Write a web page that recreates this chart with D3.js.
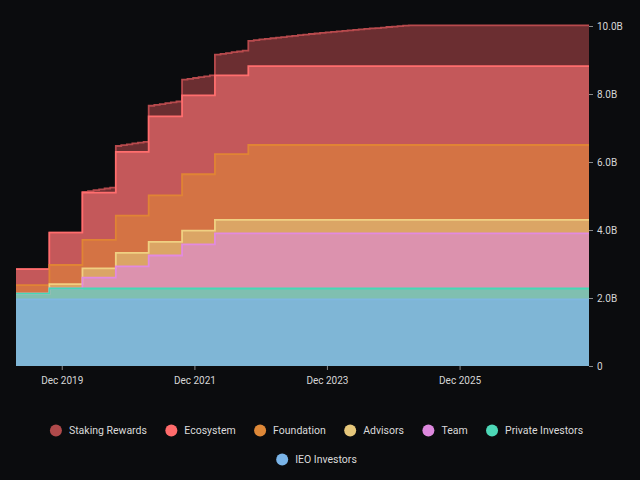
<!DOCTYPE html>
<html><head><meta charset="utf-8">
<script src="https://cdn.jsdelivr.net/npm/d3@7"></script>
<style>
html,body{margin:0;padding:0;background:#0b0c0e;}
svg{display:block;}
text{font-family:Roboto, "Segoe UI", Arial, sans-serif;}
</style></head><body>
<svg id="chart" width="640" height="480"></svg>
<script>
// ---- data (billions of tokens) ----
const seriesNames = ["Staking Rewards","Ecosystem","Foundation","Advisors","Team","Private Investors","IEO Investors"];
const seriesKeys  = ["staking","ecosystem","foundation","advisors","team","private","ieo"];
// six-month tranche schedules (each value holds for 6 months, last holds to the end)
const ieoTranches        = [1.96];
const privateTranches    = [0.17, 0.32];
const teamTranches       = [0, 0, 0.32, 0.65, 0.97, 1.30, 1.62];
const advisorsTranches   = [0, 0.13, 0.27, 0.40];
const foundationTranches = [0.25, 0.56, 0.84, 1.09, 1.37, 1.66, 1.93, 2.20];
const ecosystemTranches  = [0.47, 0.95, 1.39, 1.88, 2.32];
// monthly staking rewards (last value holds to the end)
const stakingMonthly = [0,0,0,0,0,0,0,0,0,0,0,0,
  0.02,0.045,0.07,0.095,0.12,0.145,0.17,0.195,0.22,0.245,0.27,0.29,
  0.315,0.34,0.365,0.39,0.415,0.44,0.46,0.485,0.51,0.535,0.56,0.585,
  0.61,0.63,0.655,0.68,0.70,0.725,0.745,0.765,0.785,0.80,0.82,0.84,
  0.855,0.875,0.89,0.91,0.925,0.945,0.96,0.975,0.99,1.005,1.02,1.035,
  1.05,1.065,1.08,1.095,1.11,1.12,1.135,1.15,1.16,1.175,1.19,1.20];
const startDate = "2019-03-24";
const endDate = "2027-11-14";
const monthCount = 104;
const xTickDates = ["2019-12-01","2021-12-01","2023-12-01","2025-12-01"];
const yTickValues = [0, 2, 4, 6, 8, 10];

// ---- styles ----
const fillColors   = {staking:"#6b2e31", ecosystem:"#c4585a", foundation:"#d47344", advisors:"#dba565", team:"#dc92ae", private:"#80bfb0", ieo:"#7fb6d6"};
const lineColors   = {staking:"#b84a4d", ecosystem:"#ff6e6e", foundation:"#e08434", advisors:"#f0d082", team:"#e28ae0", private:"#45d8b5", ieo:"#80b8e2"};
const legendColors = {staking:"#b04a4b", ecosystem:"#ff6b6b", foundation:"#de8838", advisors:"#e6c77b", team:"#dd88dd", private:"#4dd8b7", ieo:"#7ab4e8"};

const parse = d3.utcParse("%Y-%m-%d");
const t0 = parse(startDate), t1 = parse(endDate);
const tranche = (arr, i) => arr[Math.min(Math.floor(i / 6), arr.length - 1)];
const hold = (arr, i) => arr[Math.min(i, arr.length - 1)];

const rows = d3.range(monthCount).map(i => ({
  date: d3.utcMonth.offset(t0, i),
  ieo: tranche(ieoTranches, i),
  private: tranche(privateTranches, i),
  team: tranche(teamTranches, i),
  advisors: tranche(advisorsTranches, i),
  foundation: tranche(foundationTranches, i),
  ecosystem: tranche(ecosystemTranches, i),
  staking: hold(stakingMonthly, i)
}));
rows.push(Object.assign({}, rows[rows.length - 1], {date: t1}));

const stackOrder = ["ieo","private","team","advisors","foundation","ecosystem","staking"];
const stacked = d3.stack().keys(stackOrder)(rows);

const svg = d3.select("#chart");
svg.append("rect").attr("width",640).attr("height",480).attr("fill","#0b0c0e");

const x = d3.scaleUtc().domain([t0, t1]).range([16, 589]);
const y = d3.scaleLinear().domain([0, 10]).range([366, 26]);

const area = d3.area()
  .x(d => x(d.data.date)).y0(d => y(d[0])).y1(d => y(d[1]))
  .curve(d3.curveStepAfter);
const line = d3.line()
  .x(d => x(d.data.date)).y(d => y(d[1]))
  .curve(d3.curveStepAfter);

const plot = svg.append("g");
plot.selectAll("path.band").data(stacked).join("path")
  .attr("class","band")
  .attr("d", area)
  .attr("fill", s => fillColors[s.key]);
// top lines: draw upper series first so lower boundaries sit on top
plot.selectAll("path.edge").data(stacked.slice().reverse()).join("path")
  .attr("class","edge")
  .attr("d", line)
  .attr("fill","none")
  .attr("stroke", s => lineColors[s.key])
  .attr("stroke-width", 1.8);

// axes
const yAxis = svg.append("g").attr("transform","translate(589,0)")
  .call(d3.axisRight(y).tickValues(yTickValues)
    .tickFormat(d => d === 0 ? "0" : d.toFixed(1) + "B")
    .tickSize(4).tickPadding(4));
const xAxis = svg.append("g").attr("transform","translate(0,366)")
  .call(d3.axisBottom(x).tickValues(xTickDates.map(parse))
    .tickFormat(d3.utcFormat("%b %Y")).tickSize(4).tickPadding(7));
[yAxis, xAxis].forEach(g => {
  g.select(".domain").remove();
  g.selectAll(".tick line").attr("stroke","#8a8a8a");
  g.selectAll(".tick text").attr("fill","#d6d6d6").attr("font-size",10);
});

// legend
const legendRows = [[0,1,2,3,4,5],[6]];
const legendY = [430.5, 459.5];
const legendCenter = 316.5;
legendRows.forEach((row, r) => {
  const g = svg.append("g");
  const items = row.map(idx => {
    const it = g.append("g");
    it.append("circle").attr("r",6).attr("cx",0).attr("cy",0).attr("fill", legendColors[seriesKeys[idx]]);
    const t = it.append("text").attr("x",13).attr("y",0).attr("dy","0.35em")
      .attr("font-size",10.5).attr("fill","#dadada").text(seriesNames[idx]);
    return {it, w: t.node().getComputedTextLength()};
  });
  const gap = 24.4;
  let total = 0;
  items.forEach((d, i) => { total += (i === 0 ? 6 : 0) + 13 + d.w + (i < items.length - 1 ? gap : 0); });
  let cx = legendCenter - total / 2 + 6;
  items.forEach(d => {
    d.it.attr("transform", `translate(${cx},${legendY[r]})`);
    cx += 13 + d.w + gap;
  });
});
</script>
</body></html>
